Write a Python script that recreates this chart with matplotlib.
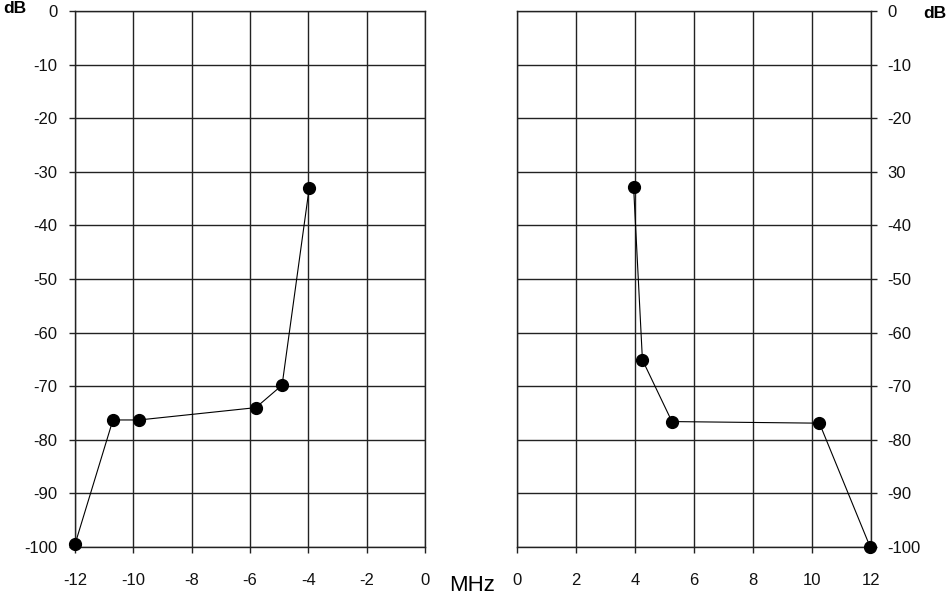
import matplotlib.pyplot as plt

plt.rcParams['font.family'] = ['Liberation Sans', 'DejaVu Sans']

# lower sideband (MHz, dB)
left_mhz = [-12, -10.7, -9.8, -5.8, -4.9, -3.97]
left_db = [-99.5, -76.3, -76.3, -74, -69.8, -33]

# upper sideband (MHz, dB)
right_mhz = [3.95, 4.25, 5.25, 10.25, 11.97]
right_db = [-32.8, -65.1, -76.6, -76.9, -100]

left_xticks = [-12, -10, -8, -6, -4, -2, 0]
right_xticks = [0, 2, 4, 6, 8, 10, 12]
yticks = [0, -10, -20, -30, -40, -50, -60, -70, -80, -90, -100]
left_ylabels = ['0', '-10', '-20', '-30', '-40', '-50', '-60', '-70', '-80', '-90', '-100']
right_ylabels = ['0', '-10', '-20', '30', '-40', '-50', '-60', '-70', '-80', '-90', '-100']

fig = plt.figure(figsize=(9.47, 5.98), dpi=100)
ax1 = fig.add_axes([0.0792, 0.0853, 0.3696, 0.8963])
ax2 = fig.add_axes([0.546, 0.0853, 0.3738, 0.8963])

grid_col = '#222222'
for ax, xs, ys, xt in [(ax1, left_mhz, left_db, left_xticks),
                       (ax2, right_mhz, right_db, right_xticks)]:
    ax.plot(xs, ys, color='black', lw=0.8, marker='o', ms=8.5,
            mfc='black', mec='black', zorder=3, clip_on=False)
    ax.set_xlim(xt[0], xt[-1])
    ax.set_ylim(-100, 0)
    ax.set_xticks(xt)
    ax.set_xticklabels([str(v) for v in xt])
    ax.set_yticks(yticks)
    ax.grid(True, color=grid_col, lw=1.0)
    for s in ax.spines.values():
        s.set_color(grid_col)
        s.set_linewidth(1.0)
    ax.tick_params(direction='out', length=4.5, width=1.0, color=grid_col,
                   labelsize=12, labelcolor='#111111')
    ax.tick_params(axis='x', pad=14)

ax1.tick_params(axis='y', pad=8)
ax1.set_yticklabels(left_ylabels)
ax2.yaxis.tick_right()
ax2.tick_params(axis='y', pad=7)
ax2.set_yticklabels(right_ylabels)

fig.text(0.003, 0.985, 'dB', fontsize=12.5, fontweight='bold', va='center', ha='left')
fig.text(0.999, 0.978, 'dB', fontsize=12.5, fontweight='bold', va='center', ha='right')
fig.text(0.498, 0.004, 'MHz', fontsize=16, va='bottom', ha='center')

fig.savefig('out.png', dpi=100)
